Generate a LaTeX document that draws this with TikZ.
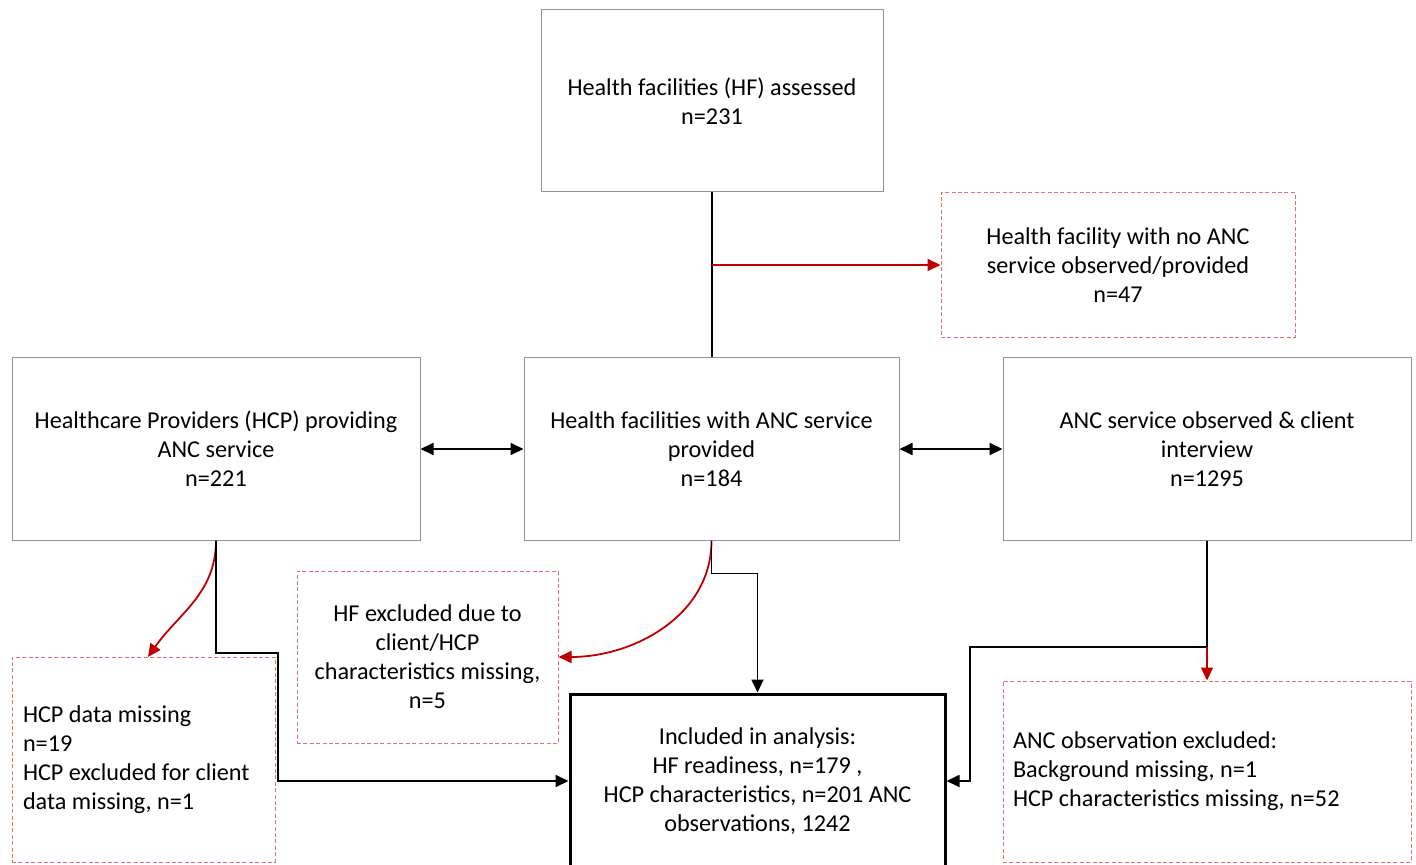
\documentclass[tikz,border=0pt]{standalone}
\usepackage{fontspec}
\setmainfont{Carlito}
\usetikzlibrary{arrows.meta,calc,positioning}
\definecolor{cexcl}{RGB}{192,0,0}
\definecolor{cdash}{RGB}{228,110,110}
\tikzset{
  box/.style={rectangle,draw=gray!85,line width=0.5pt,align=center,inner sep=4pt,
    font=\fontsize{12.1}{14.5}\selectfont},
  exbox/.style={box,draw=cdash,dash pattern=on 2pt off 1.2pt},
  mainbox/.style={box,draw=black,line width=1.5pt},
  % black flow arrows, red arrows towards the excluded boxes
  arr/.style={-{Triangle[length=6.5pt,width=6pt]},line width=0.9pt},
  darr/.style={{Triangle[length=6.5pt,width=6pt]}-{Triangle[length=6.5pt,width=6pt]},line width=0.9pt},
  exarr/.style={arr,color=cexcl}
}
\begin{document}
\begin{tikzpicture}[x=0.5pt,y=-0.5pt]
  \useasboundingbox (0,0) rectangle (1416,865);
  % main row
  \node[box,minimum width=171pt,minimum height=91pt] (hfall) at (712,101) {Health facilities (HF) assessed\\n=231};
  \node[exbox,minimum width=177pt,minimum height=72.5pt] (nosvc) at (1118,265) {Health facility with no ANC\\service observed/provided\\n=47};
  \node[box,minimum width=204pt,minimum height=91pt] (hcp) at (216,449) {Healthcare Providers (HCP) providing\\ANC service\\n=221};
  \node[box,minimum width=187.5pt,minimum height=91pt] (hfanc) at (711.5,449) {Health facilities with ANC service\\provided\\n=184};
  \node[box,minimum width=204pt,minimum height=91pt] (ancobs) at (1207,449) {ANC service observed \& client\\interview\\n=1295};
  % exclusions and result
  \node[exbox,minimum width=130.5pt,minimum height=86pt] (hfexcl) at (427.5,657) {HF excluded due to\\client/HCP\\characteristics missing,\\n=5};
  \node[exbox,text width=120.5pt,minimum height=102.5pt,inner xsep=5.5pt,align=flush left] (hcpmiss) at (143.5,759.5) {HCP data missing\\n=19\\HCP excluded for client\\data missing, n=1};
  \node[mainbox,minimum width=187.5pt,minimum height=87pt] (incl) at (757.5,781) {Included in analysis:\\HF readiness, n=179 ,\\HCP characteristics, n=201 ANC\\observations, 1242};
  \node[exbox,text width=194pt,minimum height=90.5pt,inner xsep=5pt,align=flush left] (ancexcl) at (1207,771.5) {ANC observation excluded:\\Background missing, n=1\\HCP characteristics missing, n=52};

  \draw[line width=0.9pt] (hfall.south) -- (hfall.south |- hfanc.north);
  \coordinate (hfj) at (hfall.south |- nosvc.west);
  \draw[exarr] (hfj) -- (nosvc.west);
  \draw[darr] (hcp.east) -- (hfanc.west);
  \draw[darr] (hfanc.east) -- (ancobs.west);

  \draw[exarr] (hcp.south) to[out=-90,in=55] (148,657);
  \draw[arr] (hcp.south) |- (278,653) |- (incl.west);
  \draw[exarr] (hfanc.south) to[out=-90,in=0] (hfexcl.east);
  \draw[arr] (hfanc.south) -- ++(0,33) -| (incl.north);
  \draw[arr] (ancobs.south) |- (970,647) coordinate[pos=0.5] (ancj) |- (incl.east);
  \draw[exarr] (ancj) -- (ancexcl.north);
\end{tikzpicture}
\end{document}
